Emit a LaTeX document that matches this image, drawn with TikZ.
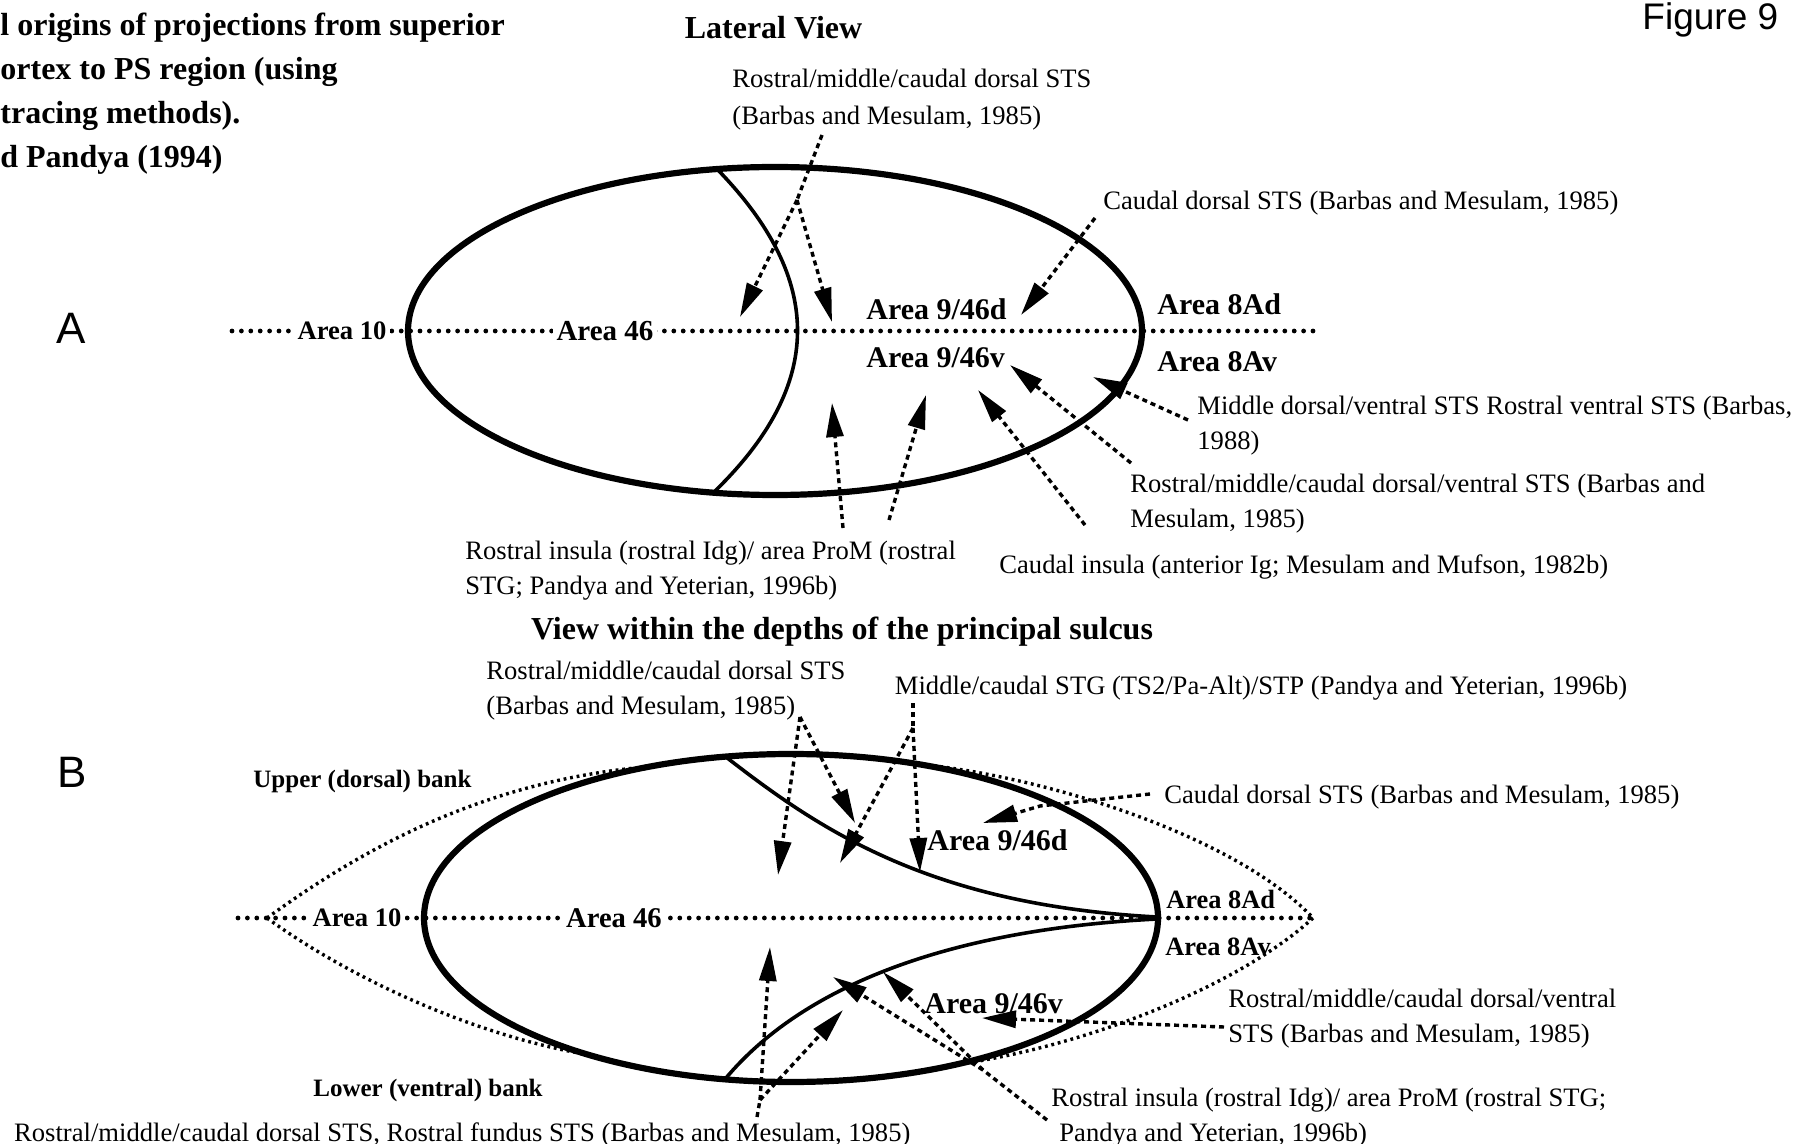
\documentclass[tikz,border=0pt]{standalone}
\usepackage{fontspec}
\setmainfont{Liberation Serif}
\newfontfamily\sansfig{Liberation Sans}
\usetikzlibrary{arrows.meta}
\begin{document}
\begin{tikzpicture}[x=0.5pt,y=-0.5pt,
  txt/.style={anchor=base west, inner sep=0pt, yshift=-1.5pt, font=\fontsize{13.3}{16}\selectfont},
  ttl/.style={inner sep=0pt, yshift=-1.5pt, font=\fontsize{16}{20}\selectfont\bfseries},
  bank/.style={anchor=base west, inner sep=0pt, yshift=-1pt, font=\fontsize{12.5}{15}\selectfont\bfseries},
  area/.style={anchor=base west, inner sep=0pt, font=\fontsize{15}{18}\selectfont\bfseries},
  areamid/.style={anchor=base, fill=white, inner xsep=2pt, inner ysep=1pt},
  letter/.style={anchor=base, inner sep=0pt, font=\sansfig\fontsize{22}{24}\selectfont},
  cortex/.style={line width=3.1pt},
  border/.style={line width=1.8pt},
  midline/.style={line width=2.4pt, line cap=round, dash pattern=on 0pt off 4.7pt},
  bankline/.style={line width=1.7pt, dash pattern=on 1.4pt off 1.9pt},
  shaft/.style={line width=1.7pt, dash pattern=on 2.5pt off 2pt},
  proj/.style={shaft, -{Triangle[length=17pt,width=8.5pt]}},
]
\fill[white] (0,0) rectangle (1805,1144);
\useasboundingbox (0,0) rectangle (1805,1144);

% ---------- heading ----------
\node[ttl, anchor=base west] (h1) at (0,33) {l origins of projections from superior};
\node[ttl, anchor=base west] (h2) at (0,77) {ortex to PS region (using};
\node[ttl, anchor=base west] (h3) at (0,121) {tracing methods).};
\node[ttl, anchor=base west] (h4) at (0,165) {d Pandya (1994)};
\node[ttl, anchor=base] (lat) at (773.5,35.5) {Lateral View};
\node[anchor=base east, inner sep=0pt, yshift=-1pt, font=\sansfig\fontsize{18.5}{20}\selectfont] (fig) at (1778.6,27.5) {Figure 9};

% ---------- panel A: lateral view ----------
\node[letter] (pa) at (71.4,344) {A};
\draw[midline] (232,331) -- (1316,331);
\draw[cortex] (775,331) ellipse [x radius=367, y radius=164];
\draw[border] (717,169) .. controls (825,280) and (825,385) .. (713,493);
\node[areamid, font=\fontsize{13.3}{16}\selectfont\bfseries] (a10) at (342,340) {Area 10};
\node[areamid, font=\fontsize{14.5}{17}\selectfont\bfseries] (a46) at (605,341) {Area 46};
\node[area] (a946d) at (866,320) {Area 9/46d};
\node[area] (a946v) at (866,368) {Area 9/46v};
\node[area] (a8ad) at (1157,315) {Area 8Ad};
\node[area] (a8av) at (1157,372) {Area 8Av};

\node[txt] (ta1) at (732,85) {Rostral/middle/caudal dorsal STS};
\node[txt] (ta1b) at (732,121.7) {(Barbas and Mesulam, 1985)};
\node[txt] (ta2) at (1103,206.7) {Caudal dorsal STS (Barbas and Mesulam, 1985)};
\node[txt] (ta3) at (1197,411.7) {Middle dorsal/ventral STS Rostral ventral STS (Barbas,};
\node[txt] (ta3b) at (1197,446.7) {1988)};
\node[txt] (ta4) at (1130,490) {Rostral/middle/caudal dorsal/ventral STS (Barbas and};
\node[txt] (ta4b) at (1130,525) {Mesulam, 1985)};
\node[txt] (ta5) at (999,571) {Caudal insula (anterior Ig; Mesulam and Mufson, 1982b)};
\node[txt] (ta6) at (465,556.7) {Rostral insula (rostral Idg)/ area ProM (rostral};
\node[txt] (ta6b) at (465,591.7) {STG; Pandya and Yeterian, 1996b)};

\coordinate (sA0) at (822,135);
\coordinate (jA0) at (797,200);
\draw[shaft] (sA0) -- (jA0);
\draw[proj] (jA0) -- (740,317);
\draw[proj] (jA0) -- (832,322);
\coordinate (sA3) at (1095,218);
\draw[proj] (sA3) -- (1021,315);
\coordinate (sA4) at (1188,420);
\draw[proj] (sA4) -- (1093,377);
\coordinate (sA5) at (1131,463);
\draw[proj] (sA5) -- (1010,365);
\coordinate (sA6) at (1085,525);
\draw[proj] (sA6) -- (978,390);
\coordinate (sA7) at (843,528);
\draw[proj] (sA7) -- (832,403);
\coordinate (sA8) at (889,520);
\draw[proj] (sA8) -- (926,395);

% ---------- panel B: depths of the principal sulcus ----------
\node[ttl, anchor=base] (dep) at (842,636.5) {View within the depths of the principal sulcus};
\node[letter] (pb) at (72.5,787) {B};
\node[bank] (up) at (253,785) {Upper (dorsal) bank};
\node[bank] (low) at (313,1094) {Lower (ventral) bank};

\draw[midline] (238,918) -- (1313,918);
% outer banks
\draw[bankline] (267,918) .. controls (350,858) and (470,785) .. (635,768);
\draw[bankline] (267,918) .. controls (345,975) and (470,1035) .. (590,1055);
\draw[bankline] (927,765) .. controls (1060,780) and (1240,840) .. (1313,918);
\draw[bankline] (1313,918) .. controls (1240,985) and (1090,1045) .. (960,1064);
\draw[cortex] (791,918) ellipse [x radius=367, y radius=164];
\draw[border] (726,757) .. controls (820,830) and (930,905) .. (1157,917);
\draw[border] (726,1078) .. controls (800,990) and (940,930) .. (1157,919);

\node[areamid, font=\fontsize{13.3}{16}\selectfont\bfseries] (b10) at (357,926.5) {Area 10};
\node[areamid, font=\fontsize{14.3}{17}\selectfont\bfseries] (b46) at (614,927) {Area 46};
\node[area] (b946d) at (927,850) {Area 9/46d};
\node[area] (b946v) at (924,1013) {Area 9/46v};
\node[area, font=\fontsize{13.2}{16}\selectfont\bfseries] (b8ad) at (1166,908) {Area 8Ad};
\node[area, font=\fontsize{13.2}{16}\selectfont\bfseries] (b8av) at (1165,955) {Area 8Av};

\node[txt] (tb1) at (486,676.7) {Rostral/middle/caudal dorsal STS};
\node[txt] (tb1b) at (486,711) {(Barbas and Mesulam, 1985)};
\node[txt] (tb2) at (894.5,691.7) {Middle/caudal STG (TS2/Pa-Alt)/STP (Pandya and Yeterian, 1996b)};
\node[txt] (tb3) at (1164,800.7) {Caudal dorsal STS (Barbas and Mesulam, 1985)};
\node[txt] (tb4) at (1228,1004.7) {Rostral/middle/caudal dorsal/ventral};
\node[txt] (tb4b) at (1228,1039.3) {STS (Barbas and Mesulam, 1985)};
\node[txt] (tb5) at (1051,1103.7) {Rostral insula (rostral Idg)/ area ProM (rostral STG;};
\node[txt] (tb5b) at (1059,1138.3) {Pandya and Yeterian, 1996b)};
\node[txt] (tb6) at (13.8,1138.3) {Rostral/middle/caudal dorsal STS, Rostral fundus STS (Barbas and Mesulam, 1985)};

\coordinate (sB1) at (800,717);
\draw[proj] (sB1) -- (778,875);
\draw[proj] (sB1) -- (855,823);
\coordinate (sB2) at (913,703);
\coordinate (jB2) at (913,728);
\draw[shaft] (sB2) -- (jB2);
\draw[proj] (jB2) -- (840,863);
\draw[proj] (jB2) -- (920,872);
\coordinate (sB3) at (1150,794);
\draw[proj] (sB3) -- (1040,806) -- (983,823);
\coordinate (sB4) at (1224,1027);
\draw[proj] (sB4) -- (982,1018);
\coordinate (sB5) at (1047,1120);
\coordinate (jB5) at (983,1070);
\draw[shaft] (sB5) -- (jB5);
\draw[proj] (jB5) -- (833,977);
\draw[proj] (jB5) -- (883,972);
\coordinate (sB6) at (757,1117);
\coordinate (jB6) at (760,1100);
\draw[shaft] (sB6) -- (jB6);
\draw[proj] (jB6) -- (770,947);
\draw[proj] (jB6) -- (843,1010);
\end{tikzpicture}
\end{document}
